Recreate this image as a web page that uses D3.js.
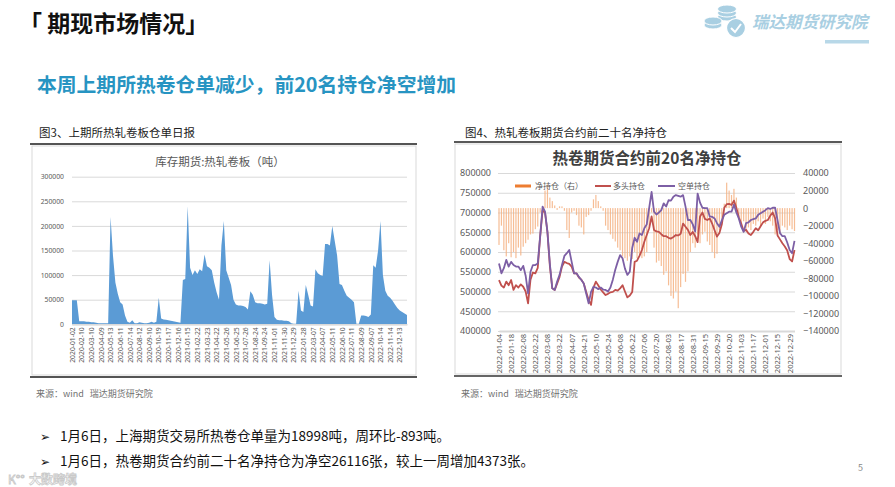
<!DOCTYPE html>
<html>
<head>
<meta charset="utf-8">
<title>期现市场情况</title>
<script src="https://cdn.jsdelivr.net/npm/d3@7"></script>
<style>
  body { margin: 0; background: #fff; }
  svg { display: block; font-family: "Noto Sans CJK SC", "Noto Sans", sans-serif; }
</style>
</head>
<body>
<svg id="slide" width="895" height="487"></svg>
<script>

// ---- data: 图3 上期所热轧卷板仓单 (吨), one value every 5 trading days ----
var stockVals = [
  49000, 49000, 49000, 6000, 6000, 6000, 5000, 5000, 4000, 4000,
  3000, 2000, 2000, 2000, 2000, 2000, 218000, 140000, 85000, 62000,
  45000, 40000, 18000, 5000, 3000, 8000, 2000, 2000, 4000, 3000,
  2000, 2000, 3000, 5000, 3000, 5000, 54000, 12000, 10000, 9000,
  8000, 7000, 6000, 5000, 4000, 3000, 90000, 92000, 240000, 115000,
  100000, 110000, 102000, 112000, 108000, 142000, 118000, 115000, 110000, 85000,
  65000, 50000, 160000, 210000, 110000, 95000, 80000, 50000, 40000, 38000,
  38000, 37000, 35000, 30000, 67000, 60000, 45000, 43000, 43000, 42000,
  40000, 42000, 130000, 60000, 15000, 9000, 8000, 8000, 7000, 7000,
  6000, 2000, 1000, 1000, 68000, 28000, 25000, 80000, 60000, 38000,
  36000, 112000, 104000, 100000, 98000, 163000, 163000, 160000, 200000, 170000,
  140000, 82000, 80000, 68000, 58000, 54000, 50000, 45000, 1000, 1000,
  18000, 18000, 17000, 15000, 20000, 120000, 115000, 150000, 210000, 100000,
  68000, 58000, 54000, 48000, 40000, 33000, 28000, 25000, 22000, 19000
];
// one tick label every 4 values (20 trading days)
var stockTicks = [
  "2020-01-02", "2020-02-10", "2020-03-10", "2020-04-09", "2020-05-13", "2020-06-11",
  "2020-07-14", "2020-08-12", "2020-09-10", "2020-10-19", "2020-11-17", "2020-12-16",
  "2021-01-15", "2021-02-22", "2021-03-23", "2021-04-22", "2021-05-26", "2021-06-25",
  "2021-07-26", "2021-08-24", "2021-09-24", "2021-11-01", "2021-11-30", "2021-12-29",
  "2022-01-28", "2022-03-07", "2022-04-07", "2022-05-11", "2022-06-10", "2022-07-11",
  "2022-08-09", "2022-09-07", "2022-10-14", "2022-11-14", "2022-12-13"
];
var stockTicksY = [0, 50000, 100000, 150000, 200000, 250000, 300000];

// ---- data: 图4 前20名持仓 (千手), one value every 2 trading days ----
var netVals = [
  -42, -20, -48, -55, -40, -56, -50, -57, -45, -54,
  -44, -40, -36, -30, -29, -24, -21, -5, 2, 20,
  27, 12, 8, 3, -2, 2, 2, -3, -25, -34,
  -5, -3, -8, -20, -22, -30, -10, -8, -3, 10,
  15, 8, 2, -3, -20, -25, -30, -35, -38, -45,
  -48, -55, -57, -60, -55, -58, -50, -57, -52, -57,
  -55, -50, -20, -5, -45, -62, -60, -66, -76, -72,
  -88, -100, -103, -95, -114, -90, -75, -84, -72, -50,
  -40, -45, -30, -40, -30, -27, -38, -42, -50, -57,
  -52, -25, -12, 5, 29, 20, 15, 22, 12, -10,
  -19, -15, -25, -22, -25, -18, -20, -15, -20, -12,
  -18, -10, -15, -20, -30, -25, -30, -20, -22, -25,
  -20, -24, -26.1
];
var longVals = [
  529, 515, 510, 525, 516, 529, 504, 516, 510, 518,
  512, 500, 470, 530, 548, 546, 560, 640, 705, 700,
  650, 565, 508, 504, 520, 537, 563, 575, 572, 570,
  563, 546, 546, 535, 530, 520, 499, 479, 466, 510,
  525, 515, 505, 498, 491, 494, 498, 499, 504, 502,
  508, 516, 500, 485, 490, 499, 575, 578, 590, 605,
  626, 643, 660, 690, 656, 652, 651, 645, 640, 640,
  636, 634, 638, 643, 642, 646, 672, 664, 656, 643,
  651, 640, 625, 690, 700, 684, 681, 685, 672, 655,
  639, 648, 670, 712, 721, 722, 719, 730, 712, 688,
  672, 653, 656, 647, 643, 651, 660, 655, 665, 675,
  679, 681, 692, 700, 685, 642, 632, 622, 614, 604,
  582, 576, 605
];
var shortVals = [
  571, 546, 559, 580, 563, 575, 567, 563, 563, 554,
  565, 540, 495, 550, 567, 567, 571, 640, 715, 702,
  651, 570, 508, 504, 525, 542, 567, 590, 597, 605,
  575, 546, 546, 537, 529, 520, 495, 470, 499, 512,
  510, 506, 510, 505, 504, 500, 510, 530, 555, 575,
  592, 584, 558, 542, 550, 610, 636, 626, 647, 643,
  660, 670, 712, 752, 702, 695, 700, 706, 723, 715,
  731, 730, 740, 744, 742, 740, 744, 715, 681, 681,
  670, 652, 748, 725, 712, 711, 711, 690, 689, 685,
  673, 664, 680, 694, 698, 702, 702, 720, 700, 685,
  664, 651, 673, 675, 681, 683, 685, 694, 698, 702,
  706, 711, 709, 712, 712, 680, 648, 640, 640, 624,
  605, 597, 628
];
// one tick label every 5 values (10 trading days)
var netTicks = [
  "2022-01-04", "2022-01-18", "2022-02-08", "2022-02-22", "2022-03-08", "2022-03-22",
  "2022-04-07", "2022-04-21", "2022-05-10", "2022-05-24", "2022-06-08", "2022-06-22",
  "2022-07-06", "2022-07-20", "2022-08-03", "2022-08-17", "2022-08-31", "2022-09-15",
  "2022-09-29", "2022-10-20", "2022-11-03", "2022-11-17", "2022-12-01", "2022-12-15",
  "2022-12-29"
];
var posTicksY = [400000, 450000, 500000, 550000, 600000, 650000, 700000, 750000, 800000];
var netTicksY = [-140000, -120000, -100000, -80000, -60000, -40000, -20000, 0, 20000, 40000];

var svg = d3.select("#slide");
var txtGray = "#595959";
var plain = d3.format("d");

// ---------- slide header ----------
svg.append("text").attr("x", 19).attr("y", 32)
  .attr("font-size", 23).attr("font-weight", "bold").attr("fill", "#111")
  .text("「 期现市场情况」");

// logo (coins + name)
var logoBlue = "#a9cfe2";
var logo = svg.append("g");
[17, 13, 9].forEach(function(cy) {
  logo.append("ellipse").attr("cx", 727).attr("cy", cy).attr("rx", 9.5).attr("ry", 4)
    .attr("fill", logoBlue).attr("stroke", "#fff").attr("stroke-width", 1);
});
[25, 21].forEach(function(cy) {
  logo.append("ellipse").attr("cx", 713).attr("cy", cy).attr("rx", 9).attr("ry", 4)
    .attr("fill", logoBlue).attr("stroke", "#fff").attr("stroke-width", 1);
});
logo.append("circle").attr("cx", 736).attr("cy", 28).attr("r", 9.5)
  .attr("fill", logoBlue).attr("stroke", "#fff").attr("stroke-width", 1.2);
logo.append("polyline").attr("points", "731,28 735,32 741,24")
  .attr("fill", "none").attr("stroke", "#fff").attr("stroke-width", 2);
logo.append("text").attr("x", 752).attr("y", 28)
  .attr("font-size", 16.5).attr("font-weight", "bold").attr("font-style", "italic")
  .attr("fill", logoBlue).text("瑞达期货研究院");
logo.append("rect").attr("x", 825).attr("y", 40).attr("width", 44).attr("height", 3.5)
  .attr("fill", "#b8d8e8");

svg.append("text").attr("x", 37).attr("y", 92)
  .attr("font-size", 19.8).attr("font-weight", "bold").attr("fill", "#2794c2")
  .text("本周上期所热卷仓单减少，前20名持仓净空增加");

// captions and frames
svg.append("text").attr("x", 39).attr("y", 137).attr("font-size", 11.5).attr("fill", "#222")
  .text("图3、上期所热轧卷板仓单日报");
svg.append("text").attr("x", 465).attr("y", 137).attr("font-size", 11.5).attr("fill", "#222")
  .text("图4、热轧卷板期货合约前二十名净持仓");

svg.append("rect").attr("x", 32).attr("y", 146).attr("width", 384).attr("height", 229)
  .attr("fill", "none").attr("stroke", "#d9d9d9");
svg.append("rect").attr("x", 455).attr("y", 144).attr("width", 386).attr("height", 230)
  .attr("fill", "none").attr("stroke", "#d9d9d9");
svg.append("line").attr("x1", 30).attr("x2", 417).attr("y1", 144).attr("y2", 144)
  .attr("stroke", "#555").attr("stroke-width", 2);
svg.append("line").attr("x1", 30).attr("x2", 417).attr("y1", 377).attr("y2", 377)
  .attr("stroke", "#555").attr("stroke-width", 2);
svg.append("line").attr("x1", 454).attr("x2", 842).attr("y1", 142).attr("y2", 142)
  .attr("stroke", "#222").attr("stroke-width", 1.6);
svg.append("line").attr("x1", 454).attr("x2", 842).attr("y1", 376).attr("y2", 376)
  .attr("stroke", "#333").attr("stroke-width", 1.6);

// ---------- chart 1: warehouse receipts ----------
var xL = d3.scaleLinear().domain([0, stockVals.length - 1]).range([72, 407]);
var yL = d3.scaleLinear().domain([0, 300000]).range([324.3, 176.7]);

svg.append("text").attr("x", 220).attr("y", 166).attr("text-anchor", "middle")
  .attr("font-size", 11.5).attr("fill", txtGray).text("库存期货:热轧卷板（吨）");

var gyL = svg.append("g").attr("transform", "translate(72,0)")
  .call(d3.axisLeft(yL).tickValues(stockTicksY).tickFormat(plain).tickSize(-(407 - 72)).tickPadding(8));
gyL.select(".domain").remove();
gyL.selectAll("line").attr("stroke", "#d9d9d9");
gyL.selectAll("text").attr("font-size", 6.8).attr("fill", txtGray).attr("font-family", "Noto Sans");

svg.append("path").datum(stockVals)
  .attr("fill", "#5b9bd5")
  .attr("d", d3.area().x(function(d, i) { return xL(i); }).y0(yL(0)).y1(function(d) { return yL(d); }));

var gxL = svg.append("g").attr("transform", "translate(0," + yL(0) + ")")
  .call(d3.axisBottom(xL).tickValues(d3.range(0, stockVals.length, 4))
    .tickSize(0).tickFormat(function(i) { return stockTicks[i / 4]; }));
gxL.select(".domain").attr("stroke", "#d9d9d9").attr("stroke-width", 1.5);
gxL.selectAll("text")
  .attr("transform", "rotate(-90)").attr("text-anchor", "end")
  .attr("x", -3).attr("y", 0).attr("dy", "0.32em")
  .attr("font-size", 6.8).attr("fill", txtGray).attr("font-family", "Noto Sans");

// ---------- chart 2: top-20 positions ----------
var xR = d3.scaleLinear().domain([0, netVals.length - 1]).range([499, 794.5]);
var yRL = d3.scaleLinear().domain([400000, 800000]).range([331, 173]);
var yRR = d3.scaleLinear().domain([-140000, 40000]).range([331, 173]);

svg.append("text").attr("x", 647).attr("y", 164).attr("text-anchor", "middle")
  .attr("font-size", 15.5).attr("font-weight", "bold").attr("fill", "#404040")
  .text("热卷期货合约前20名净持仓");

var gyR = svg.append("g").attr("transform", "translate(498,0)")
  .call(d3.axisLeft(yRL).tickValues(posTicksY).tickFormat(plain).tickSize(-(795 - 498)).tickPadding(7));
gyR.select(".domain").remove();
gyR.selectAll("line").attr("stroke", "#d9d9d9");
gyR.selectAll("text").attr("font-size", 9).attr("fill", txtGray).attr("font-family", "Noto Sans");

var gyR2 = svg.append("g").attr("transform", "translate(795,0)")
  .call(d3.axisRight(yRR).tickValues(netTicksY).tickFormat(plain).tickSize(0).tickPadding(8));
gyR2.select(".domain").remove();
gyR2.selectAll("text").attr("font-size", 9).attr("fill", txtGray).attr("font-family", "Noto Sans");

svg.append("g").selectAll("rect").data(netVals).join("rect")
  .attr("x", function(d, i) { return xR(i) - 0.6; })
  .attr("width", 1.2)
  .attr("y", function(d) { return Math.min(yRR(d * 1000), yRR(0)); })
  .attr("height", function(d) { return Math.abs(yRR(d * 1000) - yRR(0)); })
  .attr("fill", "#f4b183").attr("opacity", 0.85);

var posLine = d3.line().x(function(d, i) { return xR(i); }).y(function(d) { return yRL(d * 1000); });
svg.append("path").datum(longVals).attr("d", posLine)
  .attr("fill", "none").attr("stroke", "#c0504d").attr("stroke-width", 1.8).attr("stroke-linejoin", "round");
svg.append("path").datum(shortVals).attr("d", posLine)
  .attr("fill", "none").attr("stroke", "#7d5fa5").attr("stroke-width", 1.8).attr("stroke-linejoin", "round");

var gxR = svg.append("g").attr("transform", "translate(0,331)")
  .call(d3.axisBottom(xR).tickValues(d3.range(0, netVals.length - 2, 5))
    .tickSize(0).tickFormat(function(i) { return netTicks[i / 5]; }));
gxR.select(".domain").attr("stroke", "#d9d9d9").attr("stroke-width", 2);
gxR.selectAll("text")
  .attr("transform", "rotate(-90)").attr("text-anchor", "end")
  .attr("x", -3).attr("y", 0).attr("dy", "0.32em")
  .attr("font-size", 7.5).attr("fill", txtGray).attr("font-family", "Noto Sans");

// legend
var leg = svg.append("g").attr("font-size", 8).attr("fill", txtGray);
leg.append("rect").attr("x", 515).attr("y", 184.5).attr("width", 16).attr("height", 3).attr("fill", "#ed7d31");
leg.append("text").attr("x", 535).attr("y", 189).text("净持仓（右）");
leg.append("line").attr("x1", 595).attr("x2", 611).attr("y1", 186).attr("y2", 186)
  .attr("stroke", "#c0504d").attr("stroke-width", 2);
leg.append("text").attr("x", 613).attr("y", 189).text("多头持仓");
leg.append("line").attr("x1", 658).attr("x2", 675).attr("y1", 186).attr("y2", 186)
  .attr("stroke", "#7d5fa5").attr("stroke-width", 2);
leg.append("text").attr("x", 678).attr("y", 189).text("空单持仓");

// sources
[36, 461].forEach(function(x) {
  svg.append("text").attr("x", x).attr("y", 397).attr("font-size", 9).attr("fill", "#707070")
    .attr("style", "white-space:pre").text("来源：wind   瑞达期货研究院");
});

// bullets
var bullets = [
  "1月6日，上海期货交易所热卷仓单量为18998吨，周环比-893吨。",
  "1月6日，热卷期货合约前二十名净持仓为净空26116张，较上一周增加4373张。"
];
bullets.forEach(function(t, i) {
  var y = 441 + i * 25;
  svg.append("text").attr("x", 40).attr("y", y).attr("font-size", 12)
    .attr("font-family", "DejaVu Sans").attr("fill", "#111").text("➢");
  svg.append("text").attr("x", 60).attr("y", y).attr("font-size", 13.5).attr("fill", "#111").text(t);
});

svg.append("text").attr("x", 858).attr("y", 471).attr("font-size", 9).attr("fill", "#888").text("5");

// watermark, kept just under the last bullet
svg.append("text").attr("x", 8).attr("y", 484).attr("font-size", 12)
  .attr("fill", "#fff").attr("stroke", "#c4c4c4").attr("stroke-width", 0.8).attr("opacity", 0.9)
  .text("K°°");
svg.append("text").attr("x", 29).attr("y", 484).attr("font-size", 12).attr("font-weight", "bold")
  .attr("fill", "#fff").attr("stroke", "#c4c4c4").attr("stroke-width", 0.8).attr("opacity", 0.9)
  .text("大数跨境");

</script>
</body>
</html>
